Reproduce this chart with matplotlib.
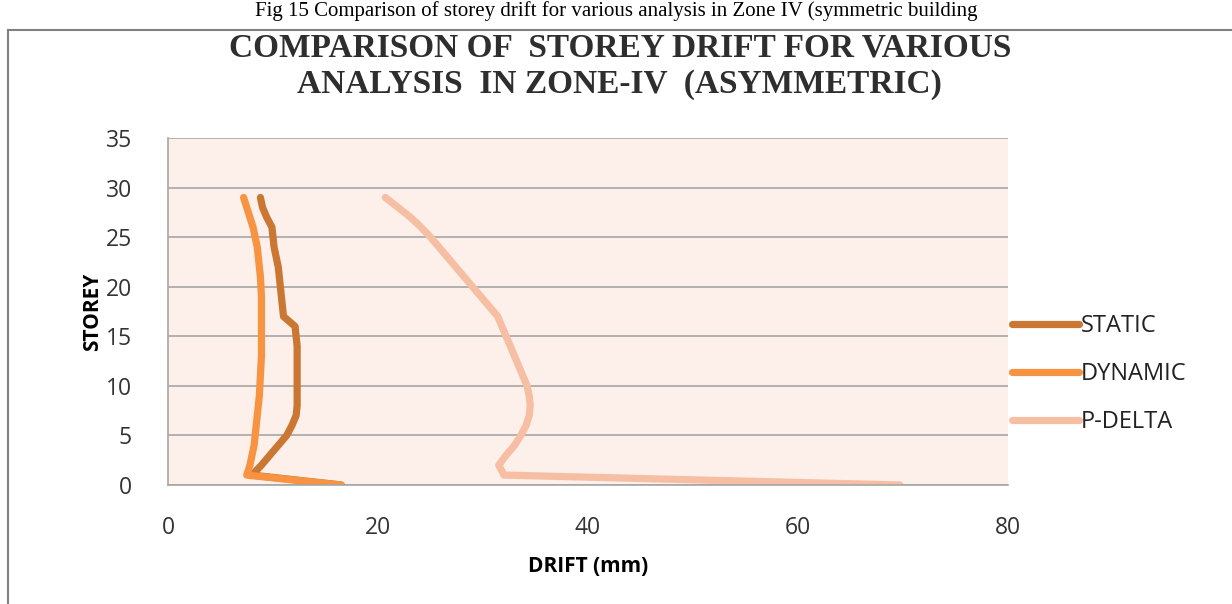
import matplotlib.pyplot as plt
from matplotlib.lines import Line2D

# storey drift values (mm), storey 0 .. 29
storeys = list(range(30))
static = [16.5, 8.0, 8.9, 9.7, 10.5, 11.3, 11.8, 12.2, 12.3, 12.3,
          12.3, 12.3, 12.3, 12.3, 12.3, 12.2, 12.1, 11.0, 10.9, 10.8,
          10.7, 10.6, 10.5, 10.3, 10.1, 10.0, 9.9, 9.4, 9.0, 8.8]
dynamic = [16.5, 7.5, 7.8, 8.0, 8.2, 8.3, 8.4, 8.5, 8.6, 8.7,
           8.75, 8.8, 8.85, 8.9, 8.9, 8.9, 8.9, 8.9, 8.9, 8.9,
           8.85, 8.8, 8.7, 8.6, 8.5, 8.3, 8.1, 7.8, 7.5, 7.2]
pdelta = [69.7, 32.0, 31.5, 32.2, 33.0, 33.6, 34.1, 34.4, 34.5, 34.4,
          34.2, 33.8, 33.4, 33.0, 32.6, 32.2, 31.8, 31.4, 30.6, 29.8,
          29.0, 28.2, 27.4, 26.6, 25.8, 25.0, 24.1, 23.1, 21.9, 20.7]

series = [("STATIC", static, "#C97733"),
          ("DYNAMIC", dynamic, "#F79341"),
          ("P-DELTA", pdelta, "#F6BFA3")]

fig = plt.figure(figsize=(12.32, 6.04), dpi=100)
ax = fig.add_axes([168 / 1232, 1 - 485 / 604, 840 / 1232, 347 / 604])
ax.set_facecolor("#FDEFE9")

for name, vals, col in series:
    ax.plot(vals, storeys, color=col, lw=5.2, label=name,
            solid_capstyle="round", solid_joinstyle="round")

ax.set_xlim(0, 80)
ax.set_ylim(0, 35)
ax.set_xticks([0, 20, 40, 60, 80])
ax.set_yticks(range(0, 36, 5))
ax.grid(axis="y", color="#A6A6A6", lw=1.2)
ax.set_axisbelow(True)
for s in ["top", "right"]:
    ax.spines[s].set_visible(False)
for s in ["left", "bottom"]:
    ax.spines[s].set_color("#A6A6A6")
    ax.spines[s].set_linewidth(1.2)
ax.tick_params(length=0, labelsize=16.5)
ax.tick_params(axis="x", pad=22)
ax.tick_params(axis="y", pad=26)
for lab in ax.get_xticklabels() + ax.get_yticklabels():
    lab.set_family("Open Sans")
    lab.set_color("#333333")

ax.set_xlabel("DRIFT (mm)", fontsize=15, fontweight="bold",
              family="Open Sans", labelpad=12)
ax.set_ylabel("STOREY", fontsize=15, fontweight="bold",
              family="Open Sans", labelpad=2)

leg = ax.legend(loc="center left", bbox_to_anchor=(0.98, 0.32),
                frameon=False, handlelength=2.8,
                handletextpad=0.1, labelspacing=1.02,
                prop={"family": "Open Sans", "size": 17})
for t in leg.get_texts():
    t.set_color("#222222")

fig.text(0.503, 1 - 48 / 604,
         "COMPARISON OF  STOREY DRIFT FOR VARIOUS", ha="center",
         va="center", fontsize=24, fontweight="bold",
         family="Liberation Serif", color="#2E2E2E")
fig.text(0.503, 1 - 84 / 604,
         "ANALYSIS  IN ZONE-IV  (ASYMMETRIC)", ha="center",
         va="center", fontsize=24, fontweight="bold",
         family="Liberation Serif", color="#2E2E2E")

fig.text(0.5, 1 - 16 / 604,
         "Fig 15 Comparison of storey drift for various analysis in Zone IV (symmetric building",
         ha="center", va="baseline", fontsize=15, family="Liberation Serif")

fig.add_artist(Line2D([8 / 1232, 8 / 1232], [0, 1 - 30 / 604],
                      color="#808080", lw=1.5))
fig.add_artist(Line2D([8 / 1232, 1], [1 - 30 / 604, 1 - 30 / 604],
                      color="#808080", lw=1.5))

fig.savefig("out.png", dpi=100)
